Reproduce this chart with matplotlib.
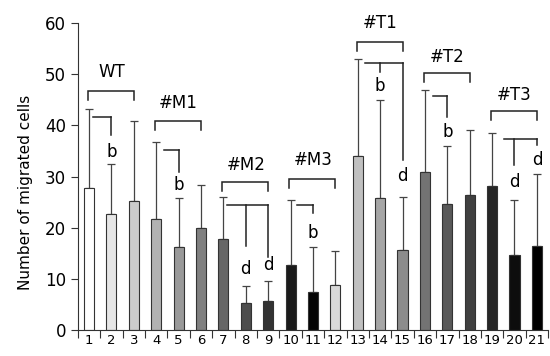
import numpy as np
import matplotlib
matplotlib.use("Agg")
import matplotlib.pyplot as plt

# mean and upper SD of each lane
lanes = [str(i) for i in range(1, 22)]
means = [27.7, 22.6, 25.3, 21.7, 16.2, 19.9, 17.8, 5.2, 5.6, 12.8, 7.5,
         8.8, 34.0, 25.8, 15.6, 30.8, 24.7, 26.3, 28.2, 14.7, 16.5]
sds = [15.6, 9.9, 15.6, 15.1, 9.7, 8.5, 8.2, 3.5, 4.0, 12.7, 8.8,
       6.6, 18.9, 19.2, 10.4, 16.1, 11.3, 12.8, 10.4, 10.7, 14.1]
greys = [255, 230, 204, 178, 153, 128, 102, 77, 51, 26, 5,
         217, 192, 166, 140, 115, 89, 64, 38, 13, 0]

group_names = ["WT", "#M1", "#M2", "#M3", "#T1", "#T2", "#T3"]
group_first = [1, 4, 7, 10, 13, 16, 19]

# bracket geometry (data units): group bracket height, label height
grp_y = [46.7, 40.9, 29.0, 29.6, 56.3, 50.3, 42.8]
grp_lbl = [50.4, 44.4, 32.3, 33.2, 60.0, 53.4, 45.9]
# significance brackets: start offset, line height, [(lane, drop to, letter, letter y)]
sig = [
    (0.17, 41.7, [(2, 38.1, "b", 34.8)]),
    (0.35, 35.2, [(5, 30.9, "b", 28.3)]),
    (0.15, 24.4, [(8, 16.4, "d", 12.0), (9, 14.3, "d", 12.7)]),
    (0.27, 24.5, [(11, 22.8, "b", 18.9)]),
    (0.32, 52.3, [(14, 50.4, "b", 47.8), (15, 33.2, "d", 30.1)]),
    (0.37, 45.8, [(17, 41.7, "b", 38.7)]),
    (0.53, 37.4, [(20, 32.2, "d", 28.9), (21, 36.1, "d", 33.2)]),
]

x = np.arange(1, len(lanes) + 1)
colors = [(g / 255, g / 255, g / 255) for g in greys]

fig = plt.figure(figsize=(5.5, 3.56), dpi=100)
ax = fig.add_axes([0.1415, 0.073, 0.855, 0.862])

ax.bar(x, means, width=0.45, color=colors, edgecolor="#333333", linewidth=0.8, zorder=2)
ax.errorbar(x, means, yerr=[np.zeros(len(sds)), sds], fmt="none",
            ecolor="#444444", elinewidth=0.9, capsize=3, capthick=0.9, zorder=1)

lc = "#222222"
for name, a, gy, ly in zip(group_names, group_first, grp_y, grp_lbl):
    ax.plot([a - 0.05, a - 0.05, a + 2, a + 2], [gy - 1.8, gy, gy, gy - 1.8],
            color=lc, lw=1.1, clip_on=False, solid_joinstyle="miter")
    ax.text(a + 1, ly, name, ha="center", va="center", fontsize=12, clip_on=False)

for a, (off, hy, targets) in zip(group_first, sig):
    xe = max(t[0] for t in targets)
    ax.plot([a + off, xe], [hy, hy], color=lc, lw=1.1)
    for lane, drop, letter, ty in targets:
        ax.plot([lane, lane], [hy, drop], color=lc, lw=1.1)
        ax.text(lane, ty, letter, ha="center", va="center", fontsize=12)

ax.set_xlim(0.5, 21.5)
ax.set_ylim(0, 60)
ax.set_yticks(range(0, 61, 10))
ax.set_xticks(x, lanes, fontsize=9.5)
ax.tick_params(axis="x", length=0, pad=3)
ax.set_xticks(np.arange(0.5, 21.6, 1), minor=True)
ax.tick_params(axis="x", which="minor", length=6, width=0.8, color="#333333")
ax.tick_params(axis="y", labelsize=12, length=5, width=0.8, color="#333333")
for s in ["top", "right"]:
    ax.spines[s].set_visible(False)
for s in ["left", "bottom"]:
    ax.spines[s].set_color("#333333")
ax.set_ylabel("Number of migrated cells", fontsize=11, labelpad=4)
ax.yaxis.set_label_coords(-0.095, 0.45)

plt.savefig("out.png", dpi=100)
